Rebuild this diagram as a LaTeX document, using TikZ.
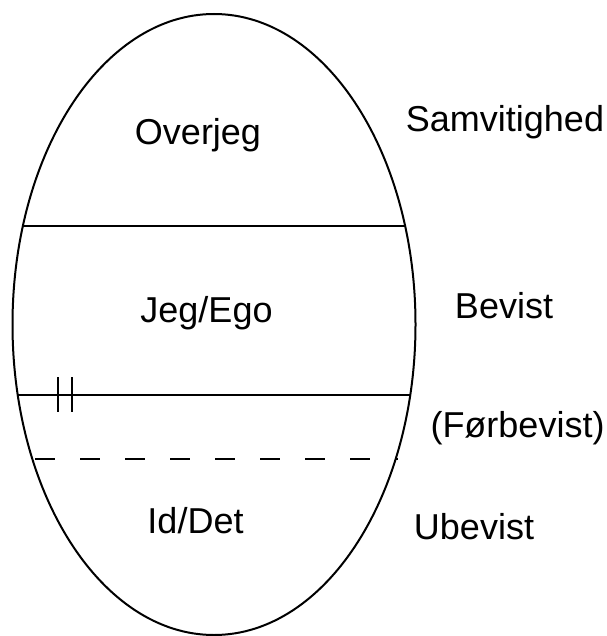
\documentclass[tikz,border=0pt]{standalone}
\usepackage{fontspec}
\setmainfont{Liberation Sans}
\begin{document}
\begin{tikzpicture}[x=1pt,y=-1pt,
  lbl/.style={inner sep=0pt,anchor=base,font=\fontsize{36}{40}\selectfont},
  bnd/.style={line width=2pt,black}]
\useasboundingbox (0,0) rectangle (606,636);
\fill[white] (0,0) rectangle (606,636);
\coordinate (c) at (214,324.5);
\draw[bnd] (c) ellipse [x radius=201.5pt, y radius=310.5pt];
\begin{scope}
  \clip (c) ellipse [x radius=201.5pt, y radius=310.5pt];
  \draw[bnd] (0,226) -- (606,226);
  \draw[bnd] (0,395) -- (606,395);
\end{scope}
\coordinate (d1) at (35,459);
\coordinate (d2) at (398,459);
\draw[bnd,dash pattern=on 20pt off 25pt] (d1) -- (d2);
\draw[bnd] (58,377) -- (58,412);
\draw[bnd] (72,377) -- (72,412);
\node[lbl] (over) at (198,145) {Overjeg};
\node[lbl] (samv) at (505,132) {Samvitighed};
\node[lbl] (jeg) at (206.5,322) {Jeg/Ego};
\node[lbl] (bev) at (504,318) {Bevist};
\node[lbl] (forb) at (517.5,437) {(Førbevist)};
\node[lbl] (id) at (195.5,533) {Id/Det};
\node[lbl] (ubev) at (474,539) {Ubevist};
\end{tikzpicture}
\end{document}
